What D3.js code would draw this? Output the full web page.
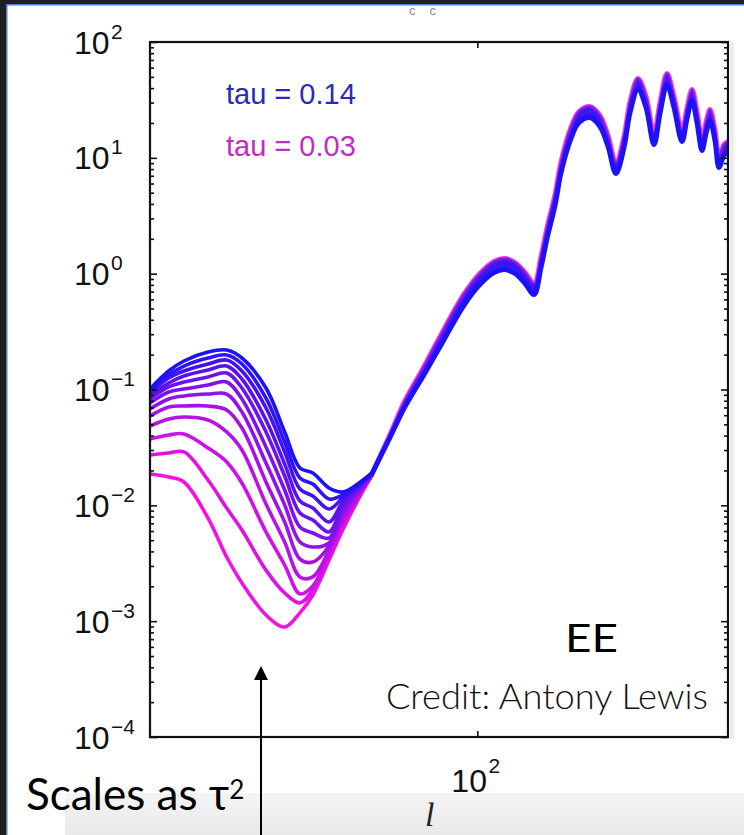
<!DOCTYPE html>
<html><head><meta charset="utf-8">
<script src="https://cdn.jsdelivr.net/npm/d3@7"></script>
<style>html,body{margin:0;padding:0;background:#fff;} svg{display:block;}</style>
</head><body><svg id="chart" width="744" height="835"></svg>
<script>
// ---------------- DATA ----------------
const ellLow = [2, 2.5, 3, 4, 5, 6, 8, 10, 12, 14, 17, 20, 24, 28];
const taus = [0.14, 0.13, 0.12, 0.11, 0.10, 0.09, 0.08, 0.07, 0.06, 0.05, 0.04, 0.03];
const eeTau014 = [0.1010, 0.1444, 0.1762, 0.2107, 0.2192, 0.1870, 0.1030, 0.0430, 0.0210, 0.0190, 0.01411, 0.01303, 0.01528, 0.01864];
const eeTau013 = [0.0970, 0.1334, 0.1595, 0.1870, 0.1985, 0.1660, 0.0844, 0.0352, 0.01722, 0.01528, 0.01134, 0.01228, 0.01528, 0.01864];
const eeTau012 = [0.0933, 0.1257, 0.1444, 0.1660, 0.1797, 0.1444, 0.0692, 0.0289, 0.01383, 0.01204, 0.00929, 0.01157, 0.01468, 0.01827];
const eeTau011 = [0.0879, 0.1138, 0.1307, 0.1473, 0.1595, 0.1232, 0.0545, 0.0227, 0.01090, 0.00948, 0.00718, 0.01068, 0.01439, 0.01827];
const eeTau010 = [0.0828, 0.1051, 0.1161, 0.1282, 0.1388, 0.1030, 0.0430, 0.01791, 0.00859, 0.00747, 0.00589, 0.00987, 0.01383, 0.01827];
const eeTau009 = [0.0764, 0.0951, 0.1010, 0.1093, 0.1161, 0.0828, 0.0319, 0.01356, 0.00650, 0.00577, 0.00522, 0.00911, 0.01356, 0.01791];
const eeTau008 = [0.0679, 0.0828, 0.0879, 0.0914, 0.0914, 0.0639, 0.0232, 0.01006, 0.00482, 0.00437, 0.00473, 0.00859, 0.01303, 0.01791];
const eeTau007 = [0.0590, 0.0706, 0.0720, 0.0720, 0.0665, 0.0465, 0.0159, 0.00718, 0.00344, 0.00324, 0.00446, 0.00809, 0.01252, 0.01791];
const eeTau006 = [0.0484, 0.0556, 0.0579, 0.0545, 0.0430, 0.0300, 0.01027, 0.00482, 0.00241, 0.00241, 0.00411, 0.00747, 0.01228, 0.01791];
const eeTau005 = [0.0374, 0.0405, 0.0413, 0.0313, 0.0237, 0.01558, 0.00589, 0.00305, 0.00172, 0.00201, 0.00388, 0.00704, 0.01180, 0.01756];
const eeTau004 = [0.0272, 0.0283, 0.0289, 0.01654, 0.00948, 0.00612, 0.00276, 0.00175, 0.00144, 0.00186, 0.00358, 0.00650, 0.01157, 0.01756];
const eeTau003 = [0.01864, 0.01756, 0.0159, 0.00777, 0.00358, 0.00214, 0.00113, 0.00089, 0.00118, 0.00168, 0.00337, 0.00612, 0.01111, 0.01756];

const ellHigh = [28, 35, 42, 52, 63, 85, 103, 122, 139, 157, 177, 197, 214, 230, 253, 272, 306, 337, 384, 433, 477, 524, 577, 620, 682, 751, 826, 887, 965, 1049, 1154, 1226, 1301, 1381, 1466, 1537, 1613, 1712, 1796, 1906, 2000];
const eeHighTau003 = [0.01791, 0.0401, 0.0796, 0.1503, 0.2728, 0.661, 1.003, 1.273, 1.352, 1.248, 1.023, 0.822, 1.406, 2.503, 4.825, 9.297, 18.27, 25.12, 27.74, 23.20, 15.59, 9.114, 15.28, 30.64, 48.41, 33.84, 16.22, 30.04, 53.46, 33.84, 17.22, 27.20, 38.90, 25.12, 14.39, 20.18, 26.14, 17.56, 10.27, 13.03, 13.84];
const eeHighTau014 = [0.01791, 0.0378, 0.0706, 0.1282, 0.2236, 0.531, 0.806, 1.023, 1.086, 1.003, 0.822, 0.661, 1.130, 2.012, 3.877, 7.470, 14.69, 20.18, 22.29, 18.64, 12.53, 7.322, 12.28, 24.62, 38.90, 27.20, 13.03, 24.14, 42.97, 27.20, 13.84, 21.85, 31.26, 20.18, 11.57, 16.22, 21.00, 14.11, 8.253, 10.47, 11.12];

const yTickExponents = [2, 1, 0, -1, -2, -3, -4];
const xTickValues = [100];
const legendLabels = ["tau = 0.14", "tau = 0.03"];

// ---------------- CHART ----------------
const W = 744, H = 835;
const plot = {left: 150, right: 728, top: 42, bottom: 737};
const svg = d3.select("#chart");
const x = d3.scaleLog().domain([2, 2000]).range([plot.left, plot.right]);
const y = d3.scaleLog().domain([1e-4, 1e2]).range([plot.bottom, plot.top]);

svg.append("rect").attr("width", W).attr("height", H).attr("fill", "#fff");

const defs = svg.append("defs");
defs.append("clipPath").attr("id", "plotclip").append("rect")
  .attr("x", plot.left).attr("y", plot.top)
  .attr("width", plot.right - plot.left).attr("height", plot.bottom - plot.top);

const color = d3.scaleLinear().domain([0.14, 0.03]).range(["#1c12f6", "#f312e2"]).interpolate(d3.interpolateRgb);
const lowSeries = [eeTau014, eeTau013, eeTau012, eeTau011, eeTau010, eeTau009, eeTau008, eeTau007, eeTau006, eeTau005, eeTau004, eeTau003];

const gCurves = svg.append("g").attr("clip-path", "url(#plotclip)");
const line = d3.line().x(d => x(d[0])).y(d => y(d[1])).curve(d3.curveCatmullRom.alpha(0.5));

// high-l band (all tau curves overlap into a thick band)
const bandPts = ellHigh.map((l, j) => ({l: l, top: eeHighTau003[j], bot: eeHighTau014[j]}));
const area = d3.area().x(d => x(d.l)).y0(d => y(d.bot)).y1(d => y(d.top)).curve(d3.curveCatmullRom.alpha(0.5));
gCurves.append("path").attr("d", line(bandPts.map(d => [d.l, d.top])))
  .attr("fill", "none").attr("stroke", color(0.03)).attr("stroke-width", 5).attr("stroke-opacity", 0.8)
  .attr("stroke-linejoin", "round");
gCurves.append("path").attr("d", area(bandPts)).attr("fill", "#3a16f0");
gCurves.append("path").attr("d", line(bandPts.map(d => [d.l, d.top])))
  .attr("fill", "none").attr("stroke", "#7a18ea").attr("stroke-width", 2.5).attr("stroke-opacity", 0.9);
gCurves.append("path").attr("d", line(bandPts.map(d => [d.l, d.bot])))
  .attr("fill", "none").attr("stroke", color(0.14)).attr("stroke-width", 5).attr("stroke-linejoin", "round");

// low-l curves, magenta first, blue on top
for (let i = taus.length - 1; i >= 0; i--) {
  const pts = ellLow.map((l, j) => [l, lowSeries[i][j]]);
  gCurves.append("path").attr("d", line(pts))
    .attr("fill", "none").attr("stroke", color(taus[i]))
    .attr("stroke-width", 3.6).attr("stroke-linejoin", "round").attr("stroke-linecap", "round");
}

// ticks
const majorY = yTickExponents.map(e => Math.pow(10, e));
const minorY = [];
for (let e = -4; e < 2; e++) for (let m = 2; m <= 9; m++) minorY.push(m * Math.pow(10, e));
function tickGroup(axis, tx, ty) {
  const g = svg.append("g").attr("transform", `translate(${tx},${ty})`).call(axis);
  g.select(".domain").remove();
  g.selectAll("text").remove();
  g.selectAll("line").attr("stroke", "#111").attr("stroke-width", 1.6);
}
tickGroup(d3.axisRight(y).tickValues(majorY).tickSize(7).tickFormat(""), plot.left, 0);
tickGroup(d3.axisRight(y).tickValues(minorY).tickSize(4).tickFormat(""), plot.left, 0);
tickGroup(d3.axisLeft(y).tickValues(majorY).tickSize(7).tickFormat(""), plot.right, 0);
tickGroup(d3.axisLeft(y).tickValues(minorY).tickSize(4).tickFormat(""), plot.right, 0);
tickGroup(d3.axisBottom(x).tickValues(xTickValues).tickSize(6).tickFormat(""), 0, plot.top);
tickGroup(d3.axisTop(x).tickValues(xTickValues).tickSize(6).tickFormat(""), 0, plot.bottom);

svg.append("rect").attr("x", plot.left).attr("y", plot.top)
  .attr("width", plot.right - plot.left).attr("height", plot.bottom - plot.top)
  .attr("fill", "none").attr("stroke", "#111").attr("stroke-width", 2.2);
svg.append("rect").attr("x", plot.right + 1.2).attr("y", plot.top).attr("width", 5).attr("height", plot.bottom - plot.top + 2)
  .attr("fill", "#ececec");

// tick labels
const tickFont = "'Liberation Sans', Arial, Helvetica, sans-serif";
yTickExponents.forEach(e => {
  const t = svg.append("text").attr("x", 74).attr("y", y(Math.pow(10, e)) + 11.5)
    .attr("font-family", tickFont).attr("fill", "#111");
  t.append("tspan").attr("font-size", 32).text("10");
  t.append("tspan").attr("font-size", 21).attr("dx", 1.5).attr("dy", -15)
    .text(e < 0 ? "\u2212" + (-e) : String(e));
});
xTickValues.forEach(v => {
  const t = svg.append("text").attr("x", x(v) - 26).attr("y", 792)
    .attr("font-family", tickFont).attr("fill", "#111");
  t.append("tspan").attr("font-size", 32).text("10");
  t.append("tspan").attr("font-size", 21).attr("dx", 1.5).attr("dy", -19).text(String(Math.round(Math.log10(v))));
});

// legend
svg.append("text").attr("x", 226).attr("y", 104).attr("font-family", tickFont).attr("font-size", 29)
  .attr("fill", "#2a2ab8").text(legendLabels[0]);
svg.append("text").attr("x", 226).attr("y", 156).attr("font-family", tickFont).attr("font-size", 29)
  .attr("fill", "#c42cc0").text(legendLabels[1]);

// small remnant of the title at the top edge
svg.append("text").attr("x", 409).attr("y", 15).attr("font-family", tickFont).attr("font-size", 13)
  .attr("fill", "#8a8a9a").attr("letter-spacing", 14).text("cc");

// overlay annotations
svg.append("text").attr("x", 565).attr("y", 652).attr("font-family", "Lato, 'Open Sans', sans-serif")
  .attr("font-size", 38).attr("textLength", 53).attr("lengthAdjust", "spacingAndGlyphs").attr("fill", "#000").text("EE");
svg.append("text").attr("x", 386).attr("y", 709).attr("font-family", "Lato, 'Open Sans', sans-serif")
  .attr("font-size", 36).attr("font-weight", 300).attr("textLength", 322).attr("lengthAdjust", "spacingAndGlyphs")
  .attr("fill", "#111").text("Credit: Antony Lewis");

// grey band at bottom
const grad = defs.append("linearGradient").attr("id", "band").attr("x1", 0).attr("x2", 0).attr("y1", 0).attr("y2", 1);
grad.append("stop").attr("offset", 0).attr("stop-color", "#f4f4f4");
grad.append("stop").attr("offset", 1).attr("stop-color", "#e9e9e9");
svg.append("rect").attr("x", 65).attr("y", 793).attr("width", W - 65).attr("height", H - 793).attr("fill", "url(#band)");

// x axis label
svg.append("text").attr("x", 425).attr("y", 826).attr("font-family", "'Liberation Serif', 'Times New Roman', serif")
  .attr("font-style", "italic").attr("font-size", 34).attr("fill", "#222").text("l");

// Scales as tau^2
const st = svg.append("text").attr("x", 26).attr("y", 810).attr("font-family", "Lato, 'Open Sans', sans-serif")
  .attr("font-size", 44).attr("fill", "#000");
st.append("tspan").text("Scales as \u03C4");
st.append("tspan").attr("font-size", 26).attr("dy", -11).text("2");

// arrow
svg.append("line").attr("x1", 261).attr("x2", 261).attr("y1", 835).attr("y2", 676).attr("stroke", "#000").attr("stroke-width", 2);
svg.append("path").attr("d", "M261,666 L254,680 L268,680 Z").attr("fill", "#000");

// window frame (dark border with blue edge)
svg.append("rect").attr("x", 0).attr("y", 0).attr("width", W).attr("height", 4).attr("fill", "#1f1f1f");
svg.append("rect").attr("x", 0).attr("y", 4).attr("width", W).attr("height", 1.5).attr("fill", "#4a7fd6");
svg.append("rect").attr("x", 0).attr("y", 0).attr("width", 6).attr("height", H).attr("fill", "#1f1f1f");
svg.append("rect").attr("x", 6).attr("y", 4).attr("width", 1.5).attr("height", H).attr("fill", "#4a7fd6");
</script></body></html>
